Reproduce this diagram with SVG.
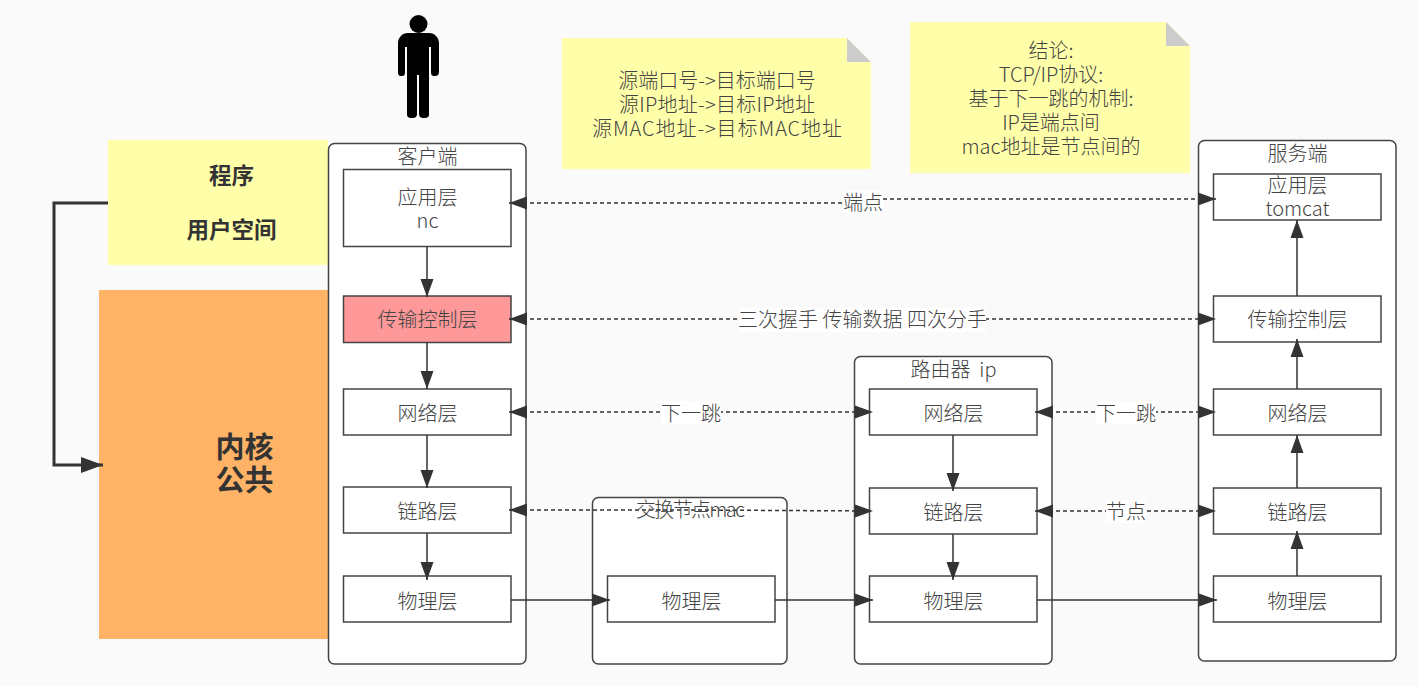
<svg xmlns="http://www.w3.org/2000/svg" width="1418" height="686" viewBox="0 0 1418 686">
<style>
text{font-family:"Noto Sans CJK SC","Liberation Sans",sans-serif;font-size:20px;font-weight:300;fill:#444;text-anchor:middle;white-space:pre}
.c{fill:#fff;stroke:#444;stroke-width:1.5}
.b{fill:#fff;stroke:#444;stroke-width:1.5}
.y{fill:#ffffaa}
.f{fill:#ccc}
.l{fill:none;stroke:#333;stroke-width:1.5}
.w{fill:none;stroke:#333;stroke-width:3}
.d{fill:none;stroke:#333;stroke-width:1.5;stroke-dasharray:4 3}
.t{fill:#fff}
text.h{font-weight:700;font-size:22.500px;fill:#333}
text.k{font-weight:700;font-size:29px;fill:#333}
</style>
<defs>
<marker id="a" markerUnits="userSpaceOnUse" markerWidth="20" markerHeight="14" refX="18" refY="7" orient="auto-start-reverse"><path d="M0 0.500 18 7 0 13.500z" fill="#333"/></marker>
<marker id="A" markerUnits="userSpaceOnUse" markerWidth="24" markerHeight="18" refX="22" refY="8" orient="auto"><path d="M0 0 22 8 0 16z" fill="#333"/></marker>
</defs>
<rect width="1418" height="686" fill="#fafafa"/>
<g id="user-space"><rect class="y" x="108" y="140" width="220" height="125"/><text class="h" x="231.500" y="184">程序</text><text class="h" x="231.500" y="238">用户空间</text></g>
<g id="kernel"><rect x="99" y="290" width="229" height="349" fill="#ffb366"/><text class="k" x="244.500" y="458">内核</text><text class="k" x="244.500" y="491">公共</text></g>
<g id="person"><circle cx="418.500" cy="24" r="9" fill="#000"/><path d="M408 33h21c6 0 10 5 10 10v29c0 3-2 4-4 4h-1c-2 0-3-1-3-4V47h-2v68c0 2-2 3-4 3h-1c-3 0-5-1-5-4V75h-2v39c0 3-2 4-5 4h-1c-2 0-4-1-4-3V47h-2v25c0 3-1 4-3 4h-1c-2 0-3-1-3-4V43c0-5 4-10 10-10z" fill="#000"/></g>
<g id="note-1"><path class="y" d="M562 38H847L871 62V169H562z"/><path class="f" d="M847 38 871 62H847z"/><text x="717" y="88">源端口号-&gt;目标端口号</text><text x="717" y="112" textLength="196">源IP地址-&gt;目标IP地址</text><text x="717" y="136" textLength="250">源MAC地址-&gt;目标MAC地址</text></g>
<g id="note-2"><path class="y" d="M910 22H1166L1190 46V173H910z"/><path class="f" d="M1166 22 1190 46H1166z"/><text x="1051" y="58">结论:</text><text x="1051" y="82">TCP/IP协议:</text><text x="1051" y="106">基于下一跳的机制:</text><text x="1051" y="130">IP是端点间</text><text x="1051" y="154">mac地址是节点间的</text></g>
<g id="client"><rect class="c" x="328.500" y="143.500" width="197.500" height="520.500" rx="6"/><text x="427.500" y="164">客户端</text></g>
<g id="switch"><rect class="c" x="592.500" y="497.500" width="194.500" height="166.500" rx="6"/></g>
<g id="router"><rect class="c" x="854.500" y="356.500" width="197.500" height="307.500" rx="6"/><text x="953.500" y="377">路由器  ip</text></g>
<g id="server"><rect class="c" x="1198.500" y="140.500" width="197.500" height="520.500" rx="6"/><text x="1297.500" y="161">服务端</text></g>
<g id="client-app"><rect class="b" x="343.500" y="169.500" width="167.500" height="77"/><text x="427.500" y="205">应用层</text><text x="427.500" y="228">nc</text></g>
<g id="client-tcp"><rect x="343.500" y="296" width="167.500" height="46.500" fill="#ff9999" stroke="#444" stroke-width="1.500"/><text x="427.500" y="327">传输控制层</text></g>
<g id="client-net"><rect class="b" x="343.500" y="389" width="167.500" height="46"/><text x="427.500" y="421">网络层</text></g>
<g id="client-link"><rect class="b" x="343.500" y="487" width="167.500" height="46"/><text x="427.500" y="519">链路层</text></g>
<g id="client-phy"><rect class="b" x="343.500" y="576" width="167.500" height="46"/><text x="427.500" y="609">物理层</text></g>
<g id="switch-phy"><rect class="b" x="607.500" y="576" width="167.500" height="46"/><text x="691.500" y="609">物理层</text></g>
<g id="router-net"><rect class="b" x="869.500" y="389" width="167.500" height="46"/><text x="953.500" y="421">网络层</text></g>
<g id="router-link"><rect class="b" x="869.500" y="488" width="167.500" height="46"/><text x="953.500" y="520">链路层</text></g>
<g id="router-phy"><rect class="b" x="869.500" y="576" width="167.500" height="46"/><text x="953.500" y="609">物理层</text></g>
<g id="server-app"><rect class="b" x="1213.500" y="174" width="167.500" height="46"/><text x="1297.500" y="193">应用层</text><text x="1297.500" y="216">tomcat</text></g>
<g id="server-tcp"><rect class="b" x="1213.500" y="296" width="167.500" height="46"/><text x="1297.500" y="327">传输控制层</text></g>
<g id="server-net"><rect class="b" x="1213.500" y="389" width="167.500" height="46"/><text x="1297.500" y="421">网络层</text></g>
<g id="server-link"><rect class="b" x="1213.500" y="488" width="167.500" height="46"/><text x="1297.500" y="520">链路层</text></g>
<g id="server-phy"><rect class="b" x="1213.500" y="576" width="167.500" height="46"/><text x="1297.500" y="609">物理层</text></g>
<g id="connectors">
<path class="w" d="M108 203H54V465H103" marker-end="url(#A)"/>
<path class="l" d="M427 246V297" marker-end="url(#a)"/>
<path class="l" d="M427 342V389" marker-end="url(#a)"/>
<path class="l" d="M427 435V488" marker-end="url(#a)"/>
<path class="l" d="M427 533V580" marker-end="url(#a)"/>
<path class="l" d="M953 435V491" marker-end="url(#a)"/>
<path class="l" d="M953 534V580" marker-end="url(#a)"/>
<path class="l" d="M1297 576V531" marker-end="url(#a)"/>
<path class="l" d="M1297 488V435" marker-end="url(#a)"/>
<path class="l" d="M1297 389V339" marker-end="url(#a)"/>
<path class="l" d="M1297 296V220" marker-end="url(#a)"/>
<path class="l" d="M511 600H610" marker-end="url(#a)"/>
<path class="l" d="M775 600H873" marker-end="url(#a)"/>
<path class="l" d="M1037 600H1217" marker-end="url(#a)"/>
<path class="d" d="M509 203H863V199H1216" marker-start="url(#a)" marker-end="url(#a)"/>
<path class="d" d="M509 319H1216" marker-start="url(#a)" marker-end="url(#a)"/>
<path class="d" d="M509 412H873" marker-start="url(#a)" marker-end="url(#a)"/>
<path class="d" d="M509 510H690L873 511" marker-start="url(#a)" marker-end="url(#a)"/>
<path class="d" d="M1035 412H1216" marker-start="url(#a)" marker-end="url(#a)"/>
<path class="d" d="M1035 511H1216" marker-start="url(#a)" marker-end="url(#a)"/>
</g>
<g id="labels">
<rect class="t" x="843" y="191" width="40" height="22"/><text x="863" y="210">端点</text>
<rect class="t" x="739" y="308" width="247" height="24"/><text x="862.500" y="327">三次握手 传输数据 四次分手</text>
<rect class="t" x="661" y="401" width="60" height="23"/><text x="691" y="421">下一跳</text>
<rect class="t" x="1096" y="401" width="60" height="23"/><text x="1126" y="421">下一跳</text>
<rect class="t" x="1106" y="500" width="40" height="23"/><text x="1126" y="519">节点</text>
<text x="690.500" y="517" textLength="109">交换节点mac</text>
</g>
</svg>
